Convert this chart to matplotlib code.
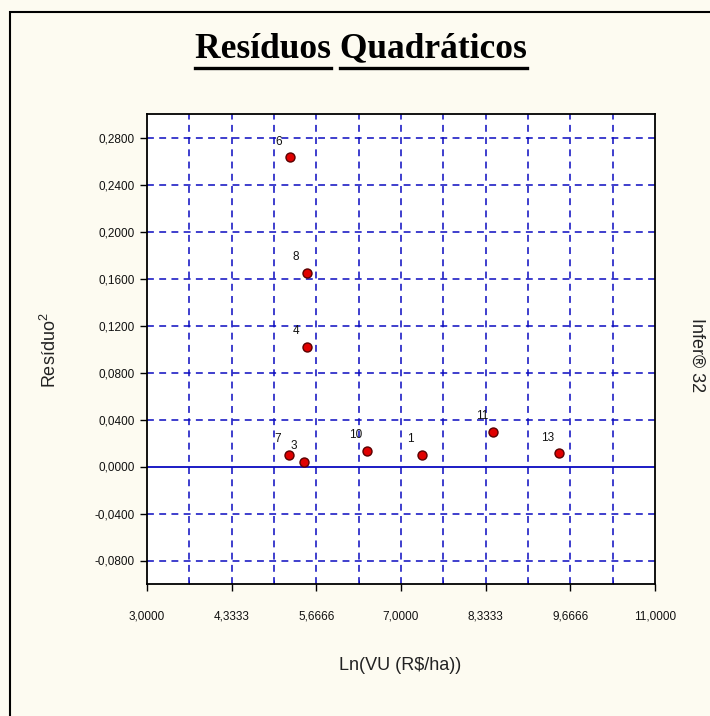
import matplotlib
matplotlib.use("Agg")
import matplotlib.pyplot as plt
from matplotlib.lines import Line2D
from matplotlib.patches import Rectangle
import numpy as np

# ---- data ----
point_ids = ["6", "8", "4", "7", "3", "10", "1", "11", "13"]
x_values = [5.25, 5.52, 5.52, 5.24, 5.48, 6.46, 7.33, 8.45, 9.49]
y_values = [0.263, 0.1645, 0.102, 0.010, 0.0037, 0.0134, 0.010, 0.0292, 0.0113]

x_ticks = [3.0, 4.3333, 5.6666, 7.0, 8.3333, 9.6666, 11.0]
x_tick_labels = ["3,0000", "4,3333", "5,6666", "7,0000", "8,3333", "9,6666", "11,0000"]
y_ticks = [-0.08, -0.04, 0.0, 0.04, 0.08, 0.12, 0.16, 0.20, 0.24, 0.28]
y_tick_labels = ["-0,0800", "-0,0400", "0,0000", "0,0400", "0,0800",
                 "0,1200", "0,1600", "0,2000", "0,2400", "0,2800"]
x_grid = [3.6667, 4.3333, 5.0, 5.6667, 6.3333, 7.0, 7.6667, 8.3333, 9.0, 9.6667, 10.3333]
y_grid = [-0.08, -0.04, 0.04, 0.08, 0.12, 0.16, 0.20, 0.24, 0.28]

title = "Resíduos Quadráticos"
xlabel = "Ln(VU (R\\$/ha))"
ylabel = "Resíduo$^{2}$"
side_label = "Infer® 32"

W, H = 710, 716
BG = "#fdfbf1"
GRID = "#0a0ac0"

plt.rcParams["mathtext.fontset"] = "custom"
plt.rcParams["mathtext.rm"] = "Liberation Sans"
plt.rcParams["mathtext.it"] = "Liberation Sans"

fig = plt.figure(figsize=(W / 100, H / 100), dpi=100, facecolor=BG)

# outer frame
fig.patches.append(Rectangle((10 / W, -0.05), 1.2, 1 - 12 / H + 0.05, transform=fig.transFigure,
                             fill=False, edgecolor="black", linewidth=1.5))

ax = fig.add_axes([147 / W, (H - 584) / H, 508 / W, 470 / H])
ax.set_facecolor("white")
ax.set_xlim(3.0, 11.0)
ax.set_ylim(-0.1, 0.3)

for gx in x_grid:
    ax.axvline(gx, color=GRID, linewidth=1.1, linestyle=(0, (4.5, 3.5)), zorder=1)
for gy in y_grid:
    ax.axhline(gy, color=GRID, linewidth=1.1, linestyle=(0, (4.5, 3.5)), zorder=1)
ax.axhline(0.0, color=GRID, linewidth=1.3, zorder=1)

ax.scatter(x_values, y_values, s=42, color="#e00000", edgecolor="#5a0000",
           linewidth=1.0, zorder=3)
for pid, xv, yv in zip(point_ids, x_values, y_values):
    ax.annotate(pid, (xv, yv), xytext=(-8, 7), textcoords="offset points",
                ha="center", va="bottom", fontsize=8.5, family="Liberation Sans",
                color="#111111", zorder=4)

ax.set_xticks(x_ticks)
ax.set_xticklabels(x_tick_labels, family="Liberation Sans", fontsize=8.5, color="#111111")
ax.set_yticks(y_ticks)
ax.set_yticklabels(y_tick_labels, family="Liberation Sans", fontsize=8.5, color="#111111")
ax.tick_params(axis="both", direction="out", length=5, width=1, color="black", pad=14)
ax.tick_params(axis="y", pad=4)
ax.set_xticks([3.6667, 5.0, 6.3333, 7.6667, 9.0, 10.3333], minor=True)
ax.tick_params(axis="x", which="minor", direction="in", length=3, color=GRID)
for sp in ax.spines.values():
    sp.set_linewidth(1.3)
    sp.set_color("black")

# title with per-word underline
fig.canvas.draw()
renderer = fig.canvas.get_renderer()
words = title.split(" ")
tfont = dict(family="Liberation Serif", fontweight="bold", fontsize=25.5)
tmp = [fig.text(0, 0, w, **tfont) for w in words]
full = fig.text(0, 0, title, **tfont)
fig.canvas.draw()
widths = [t.get_window_extent(renderer).width for t in tmp]
full_w = full.get_window_extent(renderer).width
for t in tmp + [full]:
    t.remove()
cx = 361
ty = H - 49
x0 = cx - full_w / 2
fig.text(cx / W, ty / H, title, ha="center", va="center", **tfont)
space_w = full_w - sum(widths)
xs = x0
for wd in widths:
    fig.lines.append(Line2D([xs / W, (xs + wd) / W], [(ty - 19) / H, (ty - 19) / H],
                            transform=fig.transFigure, color="black", linewidth=2.4))
    xs += wd + space_w

fig.text(50 / W, (H - 350) / H, ylabel, rotation=90, ha="center", va="center",
         fontsize=13, family="Liberation Sans", color="#222222")
fig.text(400 / W, (H - 665) / H, xlabel, ha="center", va="center",
         fontsize=13, family="Liberation Sans", color="#222222")
fig.text(697 / W, (H - 355) / H, side_label, rotation=-90, ha="center", va="center",
         fontsize=13, family="Liberation Sans", color="#222222")

fig.savefig("out.png", dpi=100, facecolor=BG)
